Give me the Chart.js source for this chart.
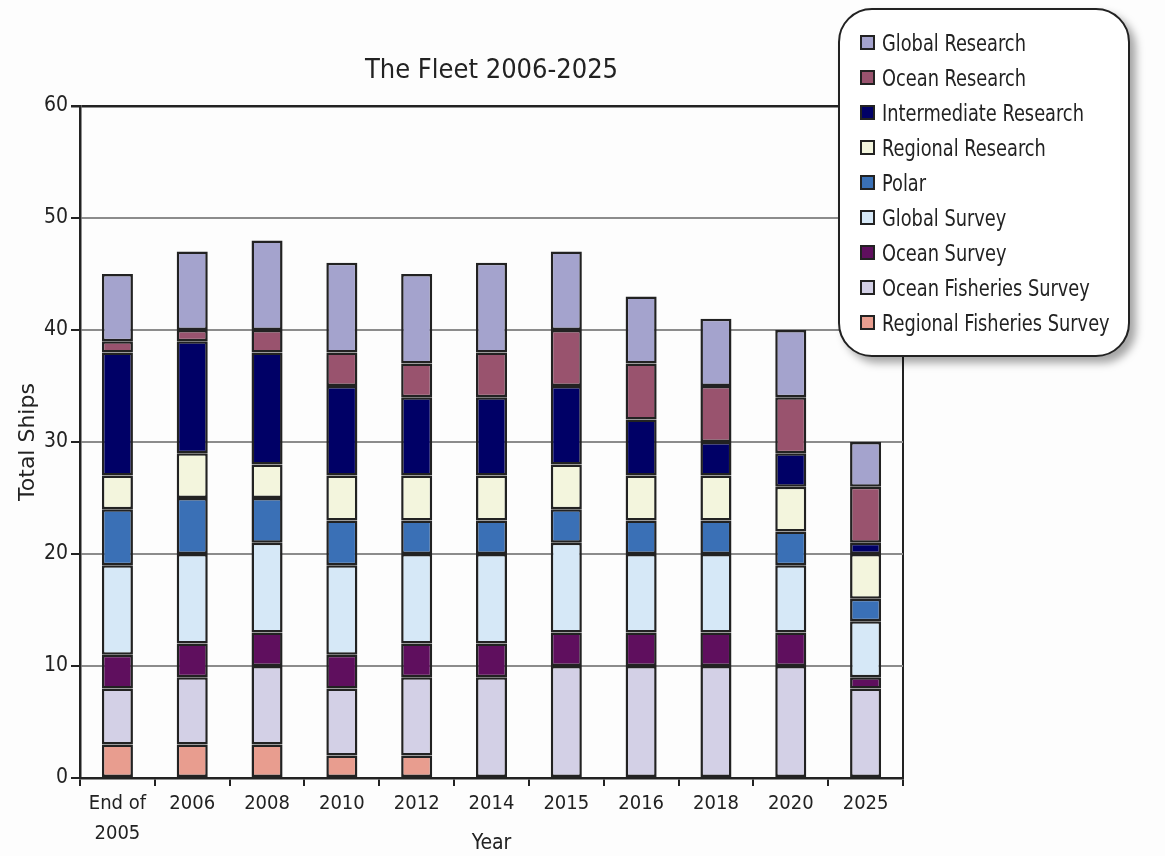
<!DOCTYPE html>
<html>
<head>
<meta charset="utf-8">
<title>The Fleet 2006-2025</title>
<script src="https://cdn.jsdelivr.net/npm/chart.js@4.4.1/dist/chart.umd.min.js"></script>
<style>
    html, body { margin: 0; padding: 0; background: #fdfdfd; }
    #wrap { position: relative; width: 1165px; height: 856px; }
    #legend {
        position: absolute; left: 838px; top: 8px; width: 288px; height: 345px;
        border: 2.5px solid #222; border-radius: 34px; background: #fff;
        box-shadow: 6px 6px 9px rgba(0, 0, 0, 0.35);
        font-family: 'Liberation Sans Narrow', 'DejaVu Sans Condensed', sans-serif;
        font-size: 23px; color: #222; white-space: nowrap;
    }
    #legend ul { list-style: none; margin: 0; padding: 15px 0 0 20px; }
    #legend li { height: 35px; display: flex; align-items: center; }
    #legend span.box { width: 11px; height: 11px; border: 2px solid #222; margin-right: 7px; flex: none; }
    /* no narrow face installed, so squeeze the condensed one a little */
    #legend span.txt { display: inline-block; transform: scaleX(0.86); transform-origin: left center; }
</style>
</head>
<body>
<div id="wrap">
    <canvas id="fleet"></canvas>
    <div id="legend"></div>
</div>
<script>
const years = [['End of', '2005'], '2006', '2008', '2010', '2012', '2014', '2015', '2016', '2018', '2020', '2025'];

const regionalFisheriesSurvey = [3, 3, 3, 2, 2, 0, 0, 0, 0, 0, 0];
const oceanFisheriesSurvey = [5, 6, 7, 6, 7, 9, 10, 10, 10, 10, 8];
const oceanSurvey = [3, 3, 3, 3, 3, 3, 3, 3, 3, 3, 1];
const globalSurvey = [8, 8, 8, 8, 8, 8, 8, 7, 7, 6, 5];
const polar = [5, 5, 4, 4, 3, 3, 3, 3, 3, 3, 2];
const regionalResearch = [3, 4, 3, 4, 4, 4, 4, 4, 4, 4, 4];
const intermediateResearch = [11, 10, 10, 8, 7, 7, 7, 5, 3, 3, 1];
const oceanResearch = [1, 1, 2, 3, 3, 4, 5, 5, 5, 5, 5];
const globalResearch = [6, 7, 8, 8, 8, 8, 7, 6, 6, 6, 4];

const yTicks = [0, 10, 20, 30, 40, 50, 60];

const narrow = "'Liberation Sans Narrow', 'DejaVu Sans Condensed', sans-serif";

function serie(label, data, color) {
    return {
        label: label,
        // empty segments are left out so no stray outline is drawn
        data: data.map(v => v === 0 ? null : v),
        backgroundColor: color,
        borderColor: '#222',
        borderWidth: 2.5,
        borderSkipped: false,
        inflateAmount: 0,
        barPercentage: 0.415,
        categoryPercentage: 1
    };
}

const ctx = document.getElementById('fleet');
const chart = new Chart(ctx, {
    type: 'bar',
    data: {
        labels: years,
        datasets: [
            serie('Regional Fisheries Survey', regionalFisheriesSurvey, '#e89d8f'),
            serie('Ocean Fisheries Survey', oceanFisheriesSurvey, '#d3d0e6'),
            serie('Ocean Survey', oceanSurvey, '#5f0f5e'),
            serie('Global Survey', globalSurvey, '#d6e8f7'),
            serie('Polar', polar, '#3a70b6'),
            serie('Regional Research', regionalResearch, '#f3f5dd'),
            serie('Intermediate Research', intermediateResearch, '#000066'),
            serie('Ocean Research', oceanResearch, '#99536e'),
            serie('Global Research', globalResearch, '#a4a3cd')
        ]
    },
    options: {
        responsive: true,
        maintainAspectRatio: false,
        animation: false,
        layout: {
            padding: { top: 0, right: 262, bottom: 0, left: 0 }
        },
        plugins: {
            legend: { display: false },
            tooltip: { enabled: false },
            title: {
                display: true,
                fullSize: false,
                text: 'The Fleet 2006-2025',
                color: '#222',
                font: { family: narrow, size: 27, weight: 'normal' },
                padding: { top: 55, bottom: 18.6 }
            }
        },
        scales: {
            x: {
                stacked: true,
                afterFit: (scale) => { scale.height = 78; },
                grid: {
                    offset: true,
                    drawOnChartArea: true,
                    // only the closing line on the right of the plot is visible
                    color: (c) => c.tick ? 'rgba(0,0,0,0)' : '#222',
                    tickColor: '#222',
                    lineWidth: 2,
                    tickLength: 8
                },
                border: { color: '#222', width: 2.5 },
                ticks: {
                    color: '#222',
                    padding: 3,
                    font: { family: narrow, size: 20, lineHeight: 1.5 }
                },
                title: {
                    display: true,
                    text: 'Year',
                    color: '#222',
                    font: { family: narrow, size: 21 },
                    padding: { top: 0, bottom: 0 }
                }
            },
            y: {
                stacked: true,
                min: 0,
                max: 60,
                afterFit: (scale) => { scale.width = 80; },
                afterBuildTicks: (scale) => { scale.ticks = yTicks.map(v => ({ value: v })); },
                grid: {
                    color: (c) => c.tick && c.tick.value === 60 ? '#222' : '#8c8c8c',
                    lineWidth: (c) => c.tick && c.tick.value === 60 ? 2.5 : 2,
                    tickColor: '#222',
                    tickLength: 9
                },
                border: { color: '#222', width: 2.5 },
                ticks: {
                    color: '#222',
                    padding: 3,
                    font: { family: narrow, size: 21 }
                },
                title: {
                    display: true,
                    text: 'Total Ships',
                    color: '#222',
                    font: { family: "'DejaVu Sans', sans-serif", size: 22 },
                    padding: { top: 15, bottom: 0 }
                }
            }
        }
    }
});

// legend, top entry first
const list = document.createElement('ul');
chart.data.datasets.slice().reverse().forEach(ds => {
    const li = document.createElement('li');
    const box = document.createElement('span');
    box.className = 'box';
    box.style.background = ds.backgroundColor;
    const txt = document.createElement('span');
    txt.className = 'txt';
    txt.textContent = ds.label;
    li.appendChild(box);
    li.appendChild(txt);
    list.appendChild(li);
});
document.getElementById('legend').appendChild(list);
</script>
</body>
</html>
